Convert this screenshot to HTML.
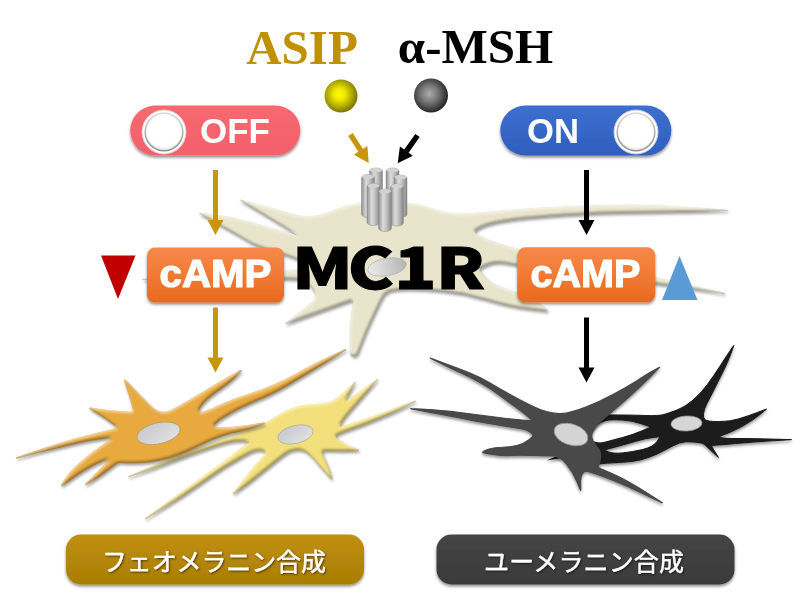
<!DOCTYPE html>
<html lang="ja"><head><meta charset="utf-8"><title>MC1R</title>
<style>html,body{margin:0;padding:0;background:#fff;overflow:hidden}svg{display:block;filter:blur(0.4px)}</style></head>
<body><svg width="800" height="600" viewBox="0 0 800 600">
<defs>
<filter id="sh" x="-10%" y="-10%" width="120%" height="130%" color-interpolation-filters="sRGB">
  <feGaussianBlur in="SourceAlpha" stdDeviation="1.6" result="b"/>
  <feOffset in="b" dx="0.5" dy="2" result="o"/>
  <feComponentTransfer in="o" result="o2"><feFuncA type="linear" slope="0.4"/></feComponentTransfer>
  <feGaussianBlur in="SourceAlpha" stdDeviation="1.3" result="ib"/>
  <feOffset in="ib" dx="-1.2" dy="-1.6" result="ioA"/>
  <feComposite in="SourceAlpha" in2="ioA" operator="out" result="edgeBR"/>
  <feFlood flood-color="#000000" flood-opacity="0.32" result="fd"/>
  <feComposite in="fd" in2="edgeBR" operator="in" result="darkE"/>
  <feOffset in="ib" dx="1.2" dy="1.6" result="ioB"/>
  <feComposite in="SourceAlpha" in2="ioB" operator="out" result="edgeTL"/>
  <feFlood flood-color="#ffffff" flood-opacity="0.45" result="fl"/>
  <feComposite in="fl" in2="edgeTL" operator="in" result="lightE"/>
  <feMerge><feMergeNode in="o2"/><feMergeNode in="SourceGraphic"/><feMergeNode in="darkE"/><feMergeNode in="lightE"/></feMerge>
</filter>
<filter id="sh2" x="-10%" y="-20%" width="120%" height="150%">
  <feGaussianBlur in="SourceAlpha" stdDeviation="1.5" result="b"/>
  <feOffset in="b" dx="0" dy="2" result="o"/>
  <feComponentTransfer in="o" result="o2"><feFuncA type="linear" slope="0.45"/></feComponentTransfer>
  <feMerge><feMergeNode in="o2"/><feMergeNode in="SourceGraphic"/></feMerge>
</filter>
<filter id="ts" x="-5%" y="-20%" width="110%" height="140%">
  <feGaussianBlur in="SourceAlpha" stdDeviation="0.8" result="b"/>
  <feOffset in="b" dx="0.5" dy="1" result="o"/>
  <feComponentTransfer in="o" result="o2"><feFuncA type="linear" slope="0.6"/></feComponentTransfer>
  <feMerge><feMergeNode in="o2"/><feMergeNode in="SourceGraphic"/></feMerge>
</filter>
<linearGradient id="cylg" x1="0" x2="1" y1="0" y2="0">
  <stop offset="0" stop-color="#8e8e8e"/><stop offset="0.35" stop-color="#dcdcdc"/><stop offset="0.6" stop-color="#c4c4c4"/><stop offset="1" stop-color="#858585"/>
</linearGradient>
<radialGradient id="yb" cx="0.45" cy="0.45" r="0.55">
  <stop offset="0" stop-color="#ffff00"/><stop offset="0.3" stop-color="#f0ea00"/><stop offset="0.75" stop-color="#a8a000"/><stop offset="1" stop-color="#7c7600"/>
</radialGradient>
<radialGradient id="gb" cx="0.45" cy="0.45" r="0.55">
  <stop offset="0" stop-color="#acacac"/><stop offset="0.45" stop-color="#787878"/><stop offset="1" stop-color="#262626"/>
</radialGradient>
<linearGradient id="og" x1="0" x2="0" y1="0" y2="1">
  <stop offset="0" stop-color="#f6894a"/><stop offset="0.5" stop-color="#f17a34"/><stop offset="1" stop-color="#e8691e"/>
</linearGradient>
<linearGradient id="redg" x1="0" x2="0" y1="0" y2="1">
  <stop offset="0" stop-color="#f8686f"/><stop offset="1" stop-color="#f2616c"/>
</linearGradient>
<linearGradient id="blueg" x1="0" x2="0" y1="0" y2="1">
  <stop offset="0" stop-color="#3d6fd0"/><stop offset="1" stop-color="#2f5fbe"/>
</linearGradient>
<linearGradient id="goldg" x1="0" x2="0" y1="0" y2="1">
  <stop offset="0" stop-color="#c0900a"/><stop offset="1" stop-color="#a97d05"/>
</linearGradient>
<linearGradient id="dkg" x1="0" x2="0" y1="0" y2="1">
  <stop offset="0" stop-color="#454545"/><stop offset="1" stop-color="#3a3a3a"/>
</linearGradient>
<linearGradient id="ring" x1="0" x2="0" y1="0" y2="1"><stop offset="0" stop-color="#d8d8d8"/><stop offset="1" stop-color="#909090"/></linearGradient>
<radialGradient id="knob" cx="0.5" cy="0.4" r="0.6">
  <stop offset="0" stop-color="#ffffff"/><stop offset="0.8" stop-color="#ffffff"/><stop offset="1" stop-color="#e2e2e2"/>
</radialGradient>
<linearGradient id="nuc2" x1="0" x2="1" y1="0" y2="0"><stop offset="0" stop-color="#ececec"/><stop offset="1" stop-color="#b4b4b4"/></linearGradient>
<linearGradient id="nuc" x1="0" x2="1" y1="0" y2="1">
  <stop offset="0" stop-color="#c4c6ca"/><stop offset="1" stop-color="#e4e4e4"/>
</linearGradient>
</defs>
<rect width="800" height="600" fill="#ffffff"/>

<!-- central beige cell -->
<g filter="url(#sh)"><path d="M241.0 200.3 L255.0 204.0 Q270.0 208.0 282.0 211.5 L282.0 211.5 Q294.0 215.0 302.0 216.5 L302.0 216.5 Q310.0 218.0 320.0 215.0 L320.0 215.0 Q330.0 212.0 338.0 209.0 L338.0 209.0 Q346.0 206.0 354.0 204.5 L354.0 204.5 Q362.0 203.0 373.5 202.5 L373.5 202.5 Q385.0 202.0 395.5 202.5 L395.5 202.5 Q406.0 203.0 413.0 204.0 L413.0 204.0 Q420.0 205.0 427.0 207.5 L427.0 207.5 Q434.0 210.0 442.0 212.0 L442.0 212.0 Q450.0 214.0 460.0 214.0 L460.0 214.0 Q470.0 214.0 480.0 213.0 L480.0 213.0 Q490.0 212.0 511.5 210.2 L511.5 210.2 Q533.0 208.5 566.5 206.8 L566.5 206.8 Q600.0 205.0 632.5 205.2 L632.5 205.2 Q665.0 205.5 696.8 208.0 L727.5 210.4 Q728.5 210.5 727.5 210.5 L696.8 211.2 Q665.0 212.0 632.5 212.2 L632.5 212.2 Q600.0 212.5 566.5 214.8 L566.5 214.8 Q533.0 217.0 515.5 219.2 L515.5 219.2 Q498.0 221.5 490.0 223.8 L490.0 223.8 Q482.0 226.0 477.5 229.0 L475.5 230.3 Q473.0 232.0 475.5 233.7 L477.5 235.0 Q482.0 238.0 489.0 240.5 L489.0 240.5 Q496.0 243.0 506.5 246.2 L506.5 246.2 Q517.0 249.5 538.5 253.8 L538.5 253.8 Q560.0 258.0 607.5 267.5 L607.5 267.5 Q655.0 277.0 690.0 285.2 L724.0 293.3 Q725.0 293.5 724.0 293.4 L690.0 288.2 Q655.0 283.0 607.5 277.5 L607.5 277.5 Q560.0 272.0 538.5 268.5 L538.5 268.5 Q517.0 265.0 506.0 263.0 L506.0 263.0 Q495.0 261.0 486.5 265.0 L481.6 267.3 Q478.0 269.0 480.5 272.1 L484.0 276.5 Q490.0 284.0 503.5 288.3 L503.5 288.3 Q517.0 292.6 527.5 297.8 L527.5 297.8 Q538.0 303.0 543.2 307.0 L546.9 309.8 Q548.5 311.0 546.5 310.8 L529.2 308.8 Q510.0 306.6 486.5 299.6 L486.5 299.6 Q463.0 292.6 441.5 290.8 L441.5 290.8 Q420.0 289.0 409.0 289.0 L409.0 289.0 Q398.0 289.0 391.5 290.5 L391.5 290.5 Q385.0 292.0 381.5 299.2 L376.0 310.5 Q367.0 329.0 361.8 342.8 L357.6 353.7 Q356.5 356.5 353.5 356.0 L353.5 356.0 Q350.5 355.5 350.5 352.5 L350.5 340.2 Q350.5 325.0 352.2 312.2 L353.5 303.5 Q354.0 299.5 350.2 300.8 L337.0 305.5 Q320.0 311.5 302.5 317.8 L286.9 323.3 Q285.0 324.0 286.5 322.7 L293.5 317.0 Q302.0 310.0 311.0 303.0 L311.0 303.0 Q320.0 296.0 313.0 288.5 L308.0 283.2 Q306.0 281.0 303.2 279.9 L302.0 279.5 Q298.0 278.0 220.0 278.8 L143.0 279.5 Q142.0 279.5 143.0 279.4 L220.0 275.2 Q298.0 271.0 304.0 268.5 L307.2 267.2 Q310.0 266.0 307.4 264.4 L303.0 261.8 Q296.0 257.5 276.0 251.8 L276.0 251.8 Q256.0 246.0 248.0 241.0 L248.0 241.0 Q240.0 236.0 230.0 230.5 L230.0 230.5 Q220.0 225.0 209.5 219.0 L200.3 213.7 Q199.0 213.0 200.5 213.2 L214.5 215.0 Q230.0 217.0 245.0 221.0 L245.0 221.0 Q260.0 225.0 270.0 228.0 L270.0 228.0 Q280.0 231.0 290.0 233.8 L298.1 236.0 Q300.0 236.5 298.3 235.4 L290.0 230.2 Q280.0 224.0 270.0 218.0 L270.0 218.0 Q260.0 212.0 250.0 206.0 L240.9 200.5 Q240.0 200.0 241.0 200.3Z" fill="#e9e5cd" stroke="#e9e5cd" stroke-width="1" stroke-linejoin="round"/></g>
<ellipse cx="387" cy="267" rx="19.5" ry="8.8" transform="rotate(-10 387 267)" fill="url(#nuc2)" stroke="#b5b5b5" stroke-width="0.8"/>

<!-- receptor -->
<g><rect x="369.5" y="168.0" width="13" height="37.0" rx="6.5" ry="3.2" fill="url(#cylg)" stroke="#8a8a8a" stroke-width="0.5"/><ellipse cx="376.0" cy="170.2" rx="6.0" ry="2.2" fill="#d2d2d2"/><rect x="386.0" y="168.0" width="13" height="37.0" rx="6.5" ry="3.2" fill="url(#cylg)" stroke="#8a8a8a" stroke-width="0.5"/><ellipse cx="392.5" cy="170.2" rx="6.0" ry="2.2" fill="#d2d2d2"/><rect x="361.5" y="174.5" width="13" height="43.0" rx="6.5" ry="3.2" fill="url(#cylg)" stroke="#8a8a8a" stroke-width="0.5"/><ellipse cx="368.0" cy="176.7" rx="6.0" ry="2.2" fill="#d2d2d2"/><rect x="394.0" y="175.0" width="13" height="42.5" rx="6.5" ry="3.2" fill="url(#cylg)" stroke="#8a8a8a" stroke-width="0.5"/><ellipse cx="400.5" cy="177.2" rx="6.0" ry="2.2" fill="#d2d2d2"/><rect x="367.0" y="183.5" width="13" height="42.0" rx="6.5" ry="3.2" fill="url(#cylg)" stroke="#8a8a8a" stroke-width="0.5"/><ellipse cx="373.5" cy="185.7" rx="6.0" ry="2.2" fill="#d2d2d2"/><rect x="390.5" y="184.0" width="13" height="42.0" rx="6.5" ry="3.2" fill="url(#cylg)" stroke="#8a8a8a" stroke-width="0.5"/><ellipse cx="397.0" cy="186.2" rx="6.0" ry="2.2" fill="#d2d2d2"/><rect x="378.5" y="189.0" width="13" height="42.5" rx="6.5" ry="3.2" fill="url(#cylg)" stroke="#8a8a8a" stroke-width="0.5"/><ellipse cx="385.0" cy="191.2" rx="6.0" ry="2.2" fill="#d2d2d2"/></g>

<!-- yellow cell -->
<g filter="url(#sh)"><path d="M355.1 382.5 L350.8 390.3 Q346.0 399.0 345.0 401.0 L344.9 401.2 Q344.0 403.0 345.6 401.8 L377.2 379.6 Q378.0 379.0 377.3 379.8 L369.0 389.5 Q360.0 400.0 352.0 409.0 L352.0 409.0 Q344.0 418.0 341.0 423.0 L340.1 424.6 Q338.0 428.0 341.8 426.8 L349.0 424.5 Q360.0 421.0 370.0 417.5 L370.0 417.5 Q380.0 414.0 390.0 410.2 L390.0 410.2 Q400.0 406.5 408.0 403.8 L415.1 401.3 Q416.0 401.0 415.1 401.5 L408.0 405.2 Q400.0 409.5 390.0 413.8 L390.0 413.8 Q380.0 418.0 370.0 422.0 L370.0 422.0 Q360.0 426.0 350.0 429.5 L350.0 429.5 Q340.0 433.0 337.0 435.0 L336.5 435.3 Q334.0 437.0 336.5 438.7 L340.0 441.0 Q346.0 445.0 352.8 447.6 L358.2 449.8 Q359.6 450.3 358.1 450.4 L349.8 450.6 Q340.0 451.0 333.0 450.5 L333.0 450.5 Q326.0 450.0 323.5 451.0 L323.5 451.0 Q321.0 452.0 322.8 455.6 L324.5 459.0 Q328.0 466.0 330.0 472.8 L331.6 478.2 Q332.0 479.6 331.0 478.5 L326.0 472.8 Q320.0 466.0 314.0 459.0 L314.0 459.0 Q308.0 452.0 304.0 450.5 L304.0 450.5 Q300.0 449.0 295.0 449.8 L295.0 449.8 Q290.0 450.5 286.2 453.2 L286.2 453.2 Q282.5 456.0 276.2 461.0 L276.2 461.0 Q270.0 466.0 263.8 471.0 L263.8 471.0 Q257.5 476.0 251.2 481.0 L251.2 481.0 Q245.0 486.0 238.8 490.2 L233.7 493.7 Q232.5 494.5 233.4 493.3 L238.8 486.0 Q245.0 477.5 251.2 470.0 L251.2 470.0 Q257.5 462.5 262.5 457.0 L265.5 453.7 Q267.5 451.5 264.6 450.8 L262.5 450.2 Q257.5 449.0 251.2 452.0 L251.2 452.0 Q245.0 455.0 238.8 458.8 L238.8 458.8 Q232.5 462.5 226.2 466.2 L226.2 466.2 Q220.0 470.0 200.0 484.0 L200.0 484.0 Q180.0 498.0 162.5 508.5 L145.9 518.5 Q145.0 519.0 145.8 518.4 L162.5 506.0 Q180.0 493.0 200.0 478.8 L200.0 478.8 Q220.0 464.5 226.2 459.8 L226.2 459.8 Q232.5 455.0 238.8 450.0 L238.8 450.0 Q245.0 445.0 248.0 443.5 L248.8 443.1 Q251.0 442.0 248.6 441.4 L248.0 441.2 Q245.0 440.5 237.5 440.8 L237.5 440.8 Q230.0 441.0 215.0 446.0 L215.0 446.0 Q200.0 451.0 180.0 458.5 L180.0 458.5 Q160.0 466.0 144.0 471.5 L128.9 476.7 Q128.0 477.0 128.9 476.6 L144.0 470.0 Q160.0 463.0 180.0 455.0 L180.0 455.0 Q200.0 447.0 215.0 442.0 L215.0 442.0 Q230.0 437.0 235.0 434.8 L235.0 434.8 Q240.0 432.5 249.0 429.5 L249.0 429.5 Q258.0 426.5 265.0 422.8 L265.0 422.8 Q272.0 419.0 278.5 415.0 L278.5 415.0 Q285.0 411.0 292.5 408.2 L292.5 408.2 Q300.0 405.5 310.0 404.8 L310.0 404.8 Q320.0 404.0 326.0 403.2 L326.0 403.2 Q332.0 402.5 337.0 398.2 L337.0 398.2 Q342.0 394.0 348.8 387.8 L354.9 382.3 Q355.6 381.6 355.1 382.5Z" fill="#f3e07c" stroke="#f3e07c" stroke-width="1" stroke-linejoin="round"/></g>
<ellipse cx="295.5" cy="434.5" rx="18" ry="9" transform="rotate(-13 295.5 434.5)" fill="url(#nuc)" stroke="#b8b090" stroke-width="0.8"/>
<!-- gold cell -->
<g filter="url(#sh)"><path d="M125.4 380.5 L132.0 387.5 Q140.0 396.0 147.5 403.5 L147.9 403.9 Q155.0 411.0 160.5 412.0 L160.5 412.0 Q166.0 413.0 171.0 410.5 L171.0 410.5 Q176.0 408.0 183.0 404.0 L183.0 404.0 Q190.0 400.0 200.0 394.0 L200.0 394.0 Q210.0 388.0 220.0 382.0 L220.0 382.0 Q230.0 376.0 236.0 373.0 L240.2 370.9 Q242.0 370.0 240.6 371.4 L236.0 376.0 Q230.0 382.0 220.0 389.0 L220.0 389.0 Q210.0 396.0 205.0 401.0 L205.0 401.0 Q200.0 406.0 198.5 410.0 L198.4 410.3 Q197.0 414.0 200.8 412.8 L203.5 412.0 Q210.0 410.0 220.0 405.2 L220.0 405.2 Q230.0 400.5 252.5 393.1 L252.5 393.1 Q275.0 385.7 296.2 374.0 L296.2 374.0 Q317.5 362.3 331.8 355.9 L345.1 349.9 Q346.0 349.5 345.2 350.0 L331.8 358.4 Q317.5 367.2 296.2 380.1 L296.2 380.1 Q275.0 393.0 262.5 398.0 L262.5 398.0 Q250.0 403.0 240.0 408.0 L240.0 408.0 Q230.0 413.0 223.0 417.5 L223.0 417.5 Q216.0 422.0 214.0 424.8 L214.0 424.8 Q212.0 427.5 216.0 427.6 L221.0 427.8 Q230.0 428.0 240.0 426.5 L240.0 426.5 Q250.0 425.0 257.5 424.0 L263.5 423.2 Q265.0 423.0 263.6 423.6 L257.5 426.0 Q250.0 429.0 240.0 431.0 L240.0 431.0 Q230.0 433.0 220.0 436.5 L220.0 436.5 Q210.0 440.0 200.0 445.0 L200.0 445.0 Q190.0 450.0 180.0 454.0 L180.0 454.0 Q170.0 458.0 160.0 460.0 L160.0 460.0 Q150.0 462.0 140.0 462.5 L140.0 462.5 Q130.0 463.0 124.0 462.5 L122.0 462.3 Q118.0 462.0 114.8 464.5 L109.0 469.0 Q100.0 476.0 92.5 480.5 L86.3 484.2 Q85.0 485.0 86.1 483.9 L91.5 478.5 Q98.0 472.0 105.0 464.5 L110.0 459.2 Q112.0 457.0 109.2 458.1 L101.0 461.5 Q90.0 466.0 75.5 476.0 L62.6 484.9 Q61.0 486.0 62.1 484.3 L65.5 479.0 Q70.0 472.0 80.0 463.0 L80.0 463.0 Q90.0 454.0 102.5 445.5 L111.7 439.2 Q115.0 437.0 111.0 437.4 L102.5 438.3 Q90.0 439.6 75.0 443.3 L75.0 443.3 Q60.0 447.0 38.0 452.5 L17.0 457.8 Q16.0 458.0 16.9 457.7 L38.0 450.5 Q60.0 443.0 75.0 439.0 L75.0 439.0 Q90.0 435.0 104.5 431.5 L116.1 428.7 Q119.0 428.0 116.6 426.2 L111.5 422.5 Q104.0 417.0 96.5 412.5 L90.3 408.8 Q89.0 408.0 90.5 408.2 L99.5 409.5 Q110.0 411.0 122.0 411.8 L130.0 412.3 Q134.0 412.5 133.1 408.6 L132.0 404.2 Q130.0 396.0 127.0 387.5 L124.7 380.9 Q124.0 379.0 125.4 380.5Z" fill="#e8a93f" stroke="#e8a93f" stroke-width="1.2" stroke-linejoin="round"/></g>
<ellipse cx="158.5" cy="433.3" rx="22" ry="10.5" transform="rotate(-13 158.5 433.3)" fill="url(#nuc)" stroke="#b89a60" stroke-width="0.8"/>

<!-- black cell -->
<g filter="url(#sh2)"><path d="M733.7 345.9 L730.9 353.5 Q727.8 362.0 723.3 371.0 L723.3 371.0 Q718.8 380.0 714.3 389.0 L714.3 389.0 Q709.8 398.0 706.9 403.5 L706.9 403.5 Q704.0 409.0 703.5 413.5 L703.4 414.0 Q703.0 418.0 705.2 419.8 L705.2 419.8 Q707.5 421.6 718.8 421.6 L718.8 421.6 Q730.0 421.6 739.0 418.8 L739.0 418.8 Q748.0 416.0 757.5 412.4 L766.1 409.2 Q767.0 408.8 766.2 409.4 L759.8 414.6 Q752.5 420.5 743.5 425.6 L743.5 425.6 Q734.5 430.6 726.8 433.6 L721.8 435.4 Q719.0 436.5 721.0 437.5 L721.0 437.5 Q723.0 438.5 737.8 438.5 L737.8 438.5 Q752.5 438.5 772.2 439.1 L791.0 439.6 Q792.0 439.6 791.0 439.7 L772.2 440.8 Q752.5 442.0 735.6 443.5 L735.6 443.5 Q718.8 445.0 714.9 445.2 L713.0 445.4 Q711.0 445.5 712.1 447.2 L718.3 457.2 Q718.8 458.0 718.1 457.3 L705.2 445.1 Q703.0 443.0 700.0 442.7 L694.0 442.0 Q685.0 441.0 679.4 443.0 L679.4 443.0 Q673.8 445.0 665.9 449.5 L665.9 449.5 Q658.0 454.0 649.0 457.2 L649.0 457.2 Q640.0 460.5 633.4 461.2 L633.4 461.2 Q626.7 462.0 613.4 462.8 L613.4 462.8 Q600.0 463.5 595.0 464.2 L591.2 464.8 Q590.0 465.0 590.0 463.8 L590.0 415.7 Q590.0 414.5 591.2 414.5 L600.4 414.8 Q610.7 415.0 621.4 415.0 L621.4 415.0 Q632.0 415.0 645.4 415.5 L645.4 415.5 Q658.7 416.0 663.9 414.5 L663.9 414.5 Q669.0 413.0 677.0 410.0 L677.0 410.0 Q685.0 407.0 692.9 400.2 L692.9 400.2 Q700.8 393.5 707.4 384.5 L707.4 384.5 Q714.0 375.5 719.8 366.5 L719.8 366.5 Q725.5 357.5 729.8 351.2 L733.4 345.8 Q734.0 345.0 733.7 345.9Z M587.1 433.9 L591.0 430.0 Q597.0 424.0 601.0 422.2 L601.0 422.2 Q605.0 420.5 609.0 420.0 L609.0 420.0 Q613.0 419.5 622.5 420.0 L622.5 420.0 Q632.0 420.5 641.5 423.8 L649.1 426.4 Q651.0 427.0 649.2 427.8 L641.5 431.0 Q632.0 435.0 622.5 437.5 L622.5 437.5 Q613.0 440.0 605.0 442.2 L605.0 442.2 Q597.0 444.5 591.0 440.2 L587.4 437.7 Q585.0 436.0 587.1 433.9Z M605.9 449.5 L615.4 447.0 Q626.7 444.0 635.9 441.2 L635.9 441.2 Q645.0 438.5 652.8 437.5 L657.5 436.9 Q660.5 436.5 658.8 438.9 L656.8 441.8 Q653.0 447.0 642.5 449.5 L642.5 449.5 Q632.0 452.0 622.5 452.9 L622.5 452.9 Q613.0 453.7 608.5 451.9 L605.8 450.8 Q604.0 450.0 605.9 449.5Z" fill-rule="evenodd" fill="#1a1a1a" stroke="#1a1a1a" stroke-width="1" stroke-linejoin="round"/><path d="M559 455 L546.5 460.5 L562 458Z" fill="#1b1b1b"/></g>
<ellipse cx="686.5" cy="423.5" rx="15.5" ry="7.5" transform="rotate(-3 686.5 423.5)" fill="#d6d6d6" stroke="#999" stroke-width="0.8"/>
<!-- gray cell -->
<g filter="url(#sh2)"><path d="M430.9 358.3 L445.0 363.5 Q460.0 369.0 470.0 373.0 L470.0 373.0 Q480.0 377.0 490.0 383.0 L490.0 383.0 Q500.0 389.0 510.0 394.5 L510.0 394.5 Q520.0 400.0 528.0 404.0 L528.0 404.0 Q536.0 408.0 541.5 410.0 L541.5 410.0 Q547.0 412.0 553.5 413.0 L553.5 413.0 Q560.0 414.0 566.5 413.0 L566.5 413.0 Q573.0 412.0 586.5 406.9 L586.5 406.9 Q600.0 401.7 613.4 394.4 L613.4 394.4 Q626.7 387.0 637.4 380.4 L637.4 380.4 Q648.0 373.7 654.0 370.4 L659.1 367.5 Q660.0 367.0 659.3 367.7 L650.0 377.0 Q640.0 387.0 630.5 395.5 L630.5 395.5 Q621.0 404.0 614.5 409.5 L614.5 409.5 Q608.0 415.0 602.5 419.5 L602.5 419.5 Q597.0 424.0 593.8 430.0 L592.9 431.6 Q590.5 436.0 592.9 440.4 L593.2 441.0 Q596.0 446.0 598.5 449.0 L598.5 449.0 Q601.0 452.0 600.5 457.5 L600.5 457.5 Q600.0 463.0 598.5 465.0 L598.5 465.0 Q597.0 467.0 599.7 468.2 L611.9 473.5 Q626.7 480.0 644.7 491.5 L661.9 502.5 Q662.7 503.0 661.8 502.6 L644.7 494.4 Q626.7 485.7 613.4 480.4 L613.4 480.4 Q600.0 475.0 592.5 472.8 L587.9 471.4 Q585.0 470.5 583.1 472.8 L582.8 473.2 Q580.5 476.0 580.6 483.5 L580.8 489.5 Q580.8 491.0 580.2 489.6 L576.9 481.5 Q573.0 472.0 566.5 464.0 L566.5 464.0 Q560.0 456.0 553.4 455.9 L553.4 455.9 Q546.7 455.8 533.4 455.4 L533.4 455.4 Q520.0 455.0 510.0 455.5 L510.0 455.5 Q500.0 456.0 490.8 454.2 L484.0 453.0 Q481.5 452.5 483.7 451.3 L485.8 450.2 Q490.0 448.0 500.0 447.5 L500.0 447.5 Q510.0 447.0 517.0 445.5 L517.0 445.5 Q524.0 444.0 529.0 439.8 L531.7 437.4 Q534.0 435.5 531.8 433.5 L531.0 432.8 Q528.0 430.0 519.0 428.5 L519.0 428.5 Q510.0 427.0 495.0 424.5 L495.0 424.5 Q480.0 422.0 460.0 418.0 L460.0 418.0 Q440.0 414.0 425.0 411.3 L411.5 408.9 Q410.0 408.6 411.5 408.7 L425.0 409.3 Q440.0 410.0 460.0 412.5 L460.0 412.5 Q480.0 415.0 495.0 417.0 L495.0 417.0 Q510.0 419.0 521.5 420.0 L530.0 420.7 Q533.0 421.0 530.8 419.0 L528.5 417.0 Q524.0 413.0 517.0 408.0 L517.0 408.0 Q510.0 403.0 500.0 395.5 L500.0 395.5 Q490.0 388.0 480.0 382.5 L480.0 382.5 Q470.0 377.0 460.0 372.5 L460.0 372.5 Q450.0 368.0 440.0 363.0 L430.9 358.4 Q430.0 358.0 430.9 358.3Z" fill="#484848" stroke="#484848" stroke-width="1.2" stroke-linejoin="round"/></g>
<ellipse cx="571" cy="434.5" rx="17.5" ry="10.5" transform="rotate(18 571 434.5)" fill="#d4d4d4" stroke="#8a8a8a" stroke-width="0.8"/>

<!-- balls -->
<circle cx="341" cy="96" r="16.5" fill="url(#yb)"/>
<circle cx="431" cy="95.5" r="17" fill="url(#gb)"/>

<!-- arrows -->
<path d="M213.0 170 H218.0 V220 H223.5 L215.5 235 L207.5 220 H213.0Z" fill="#c8960c"/>
<path d="M213.0 307.5 H218.0 V357.5 H223.5 L215.5 372.5 L207.5 357.5 H213.0Z" fill="#c8960c"/>
<path d="M584.0 170 H589.0 V220 H594.5 L586.5 235 L578.5 220 H584.0Z" fill="#000000"/>
<path d="M584.0 317.5 H589.0 V367.5 H594.5 L586.5 382.5 L578.5 367.5 H584.0Z" fill="#000000"/>
<polygon points="348.2,136.0 358.3,151.8 353.9,154.7 368.7,163.0 367.4,146.1 362.9,148.9 352.8,133.0" fill="#c8960c"/>
<polygon points="415.3,133.9 404.2,149.5 399.9,146.4 397.7,163.3 412.9,155.7 408.6,152.7 419.7,137.1" fill="#000000"/>

<!-- switches -->
<g filter="url(#sh2)"><rect x="130.3" y="105.5" width="170" height="50" rx="25" fill="url(#redg)"/></g>
<circle cx="164" cy="132" r="22" fill="#ffffff" stroke="#e8c9cc" stroke-width="1"/><circle cx="164" cy="132" r="18.8" fill="url(#knob)" stroke="url(#ring)" stroke-width="1.6"/>
<text x="235" y="142.6" text-anchor="middle" font-family="'Liberation Sans', Arial, sans-serif" font-weight="bold" font-size="35" fill="#ffffff" textLength="70" lengthAdjust="spacingAndGlyphs">OFF</text>
<g filter="url(#sh2)"><rect x="500.3" y="105.5" width="171" height="50" rx="25" fill="url(#blueg)"/></g>
<circle cx="636" cy="132" r="22" fill="#ffffff" stroke="#c4cfe6" stroke-width="1"/><circle cx="636" cy="132" r="18.8" fill="url(#knob)" stroke="url(#ring)" stroke-width="1.6"/>
<text x="553" y="142.6" text-anchor="middle" font-family="'Liberation Sans', Arial, sans-serif" font-weight="bold" font-size="35" fill="#ffffff" textLength="52" lengthAdjust="spacingAndGlyphs">ON</text>

<!-- cAMP boxes -->
<g filter="url(#sh2)"><rect x="147" y="247.5" width="137" height="55" rx="8" fill="url(#og)"/></g>
<text x="215.5" y="287.3" text-anchor="middle" font-family="'Liberation Sans', Arial, sans-serif" font-weight="bold" font-size="38" fill="#ffffff" stroke="#ffffff" stroke-width="1.2" stroke-linejoin="round" textLength="112" lengthAdjust="spacingAndGlyphs">cAMP</text>
<g filter="url(#sh2)"><rect x="517.3" y="247.3" width="138" height="55" rx="8" fill="url(#og)"/></g>
<text x="585.5" y="287.3" text-anchor="middle" font-family="'Liberation Sans', Arial, sans-serif" font-weight="bold" font-size="38" fill="#ffffff" stroke="#ffffff" stroke-width="1.2" stroke-linejoin="round" textLength="110" lengthAdjust="spacingAndGlyphs">cAMP</text>

<!-- triangles -->
<polygon points="101,255.5 135.5,255.5 118,299" fill="#c00000"/>
<polygon points="679.5,256 697.5,300 662,300" fill="#5b9bd5"/>

<!-- MC1R -->
<text transform="translate(0 288.5) scale(1.23 1)" x="237.4 282.8 320.6 354.5" y="0" font-family="'Noto Sans CJK JP', 'Liberation Sans', sans-serif" font-weight="900" font-size="56.4" fill="#000000" stroke="#000000" stroke-width="0.9">MC1R</text>

<!-- titles -->
<text x="302" y="63.5" text-anchor="middle" font-family="'Liberation Serif', 'Times New Roman', serif" font-weight="bold" font-size="49" fill="#bf9000">ASIP</text>
<text x="475.5" y="63" text-anchor="middle" font-family="'Liberation Serif', 'Times New Roman', serif" font-weight="bold" font-size="49" fill="#000000">α-MSH</text>

<!-- labels -->
<g filter="url(#sh2)"><rect x="66" y="534.5" width="298" height="50" rx="15" fill="url(#goldg)"/></g>
<g filter="url(#ts)"><text x="214" y="571" text-anchor="middle" font-family="'Liberation Sans', 'Noto Sans CJK JP', sans-serif" font-size="25" fill="#ffffff" stroke="#ffffff" stroke-width="0.35" textLength="224" lengthAdjust="spacing">フェオメラニン合成</text></g>
<g filter="url(#sh2)"><rect x="436.5" y="534.5" width="298" height="50" rx="15" fill="url(#dkg)"/></g>
<g filter="url(#ts)"><text x="584" y="571" text-anchor="middle" font-family="'Liberation Sans', 'Noto Sans CJK JP', sans-serif" font-size="25" fill="#ffffff" stroke="#ffffff" stroke-width="0.35" textLength="200" lengthAdjust="spacing">ユーメラニン合成</text></g>
</svg></body></html>
